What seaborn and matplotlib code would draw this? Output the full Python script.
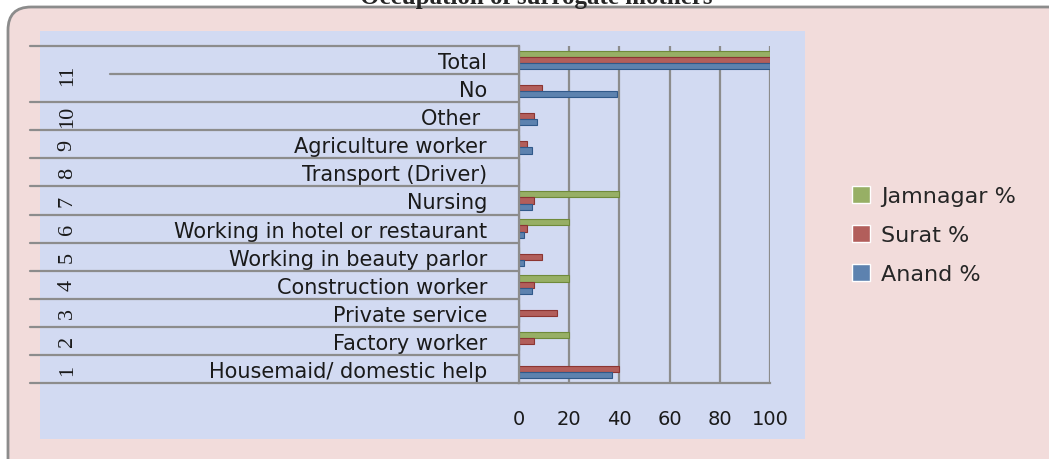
import numpy as np
import pandas as pd
import matplotlib.pyplot as plt
import seaborn as sns
from matplotlib.patches import FancyBboxPatch, Rectangle

# categories top to bottom
occupations = ['Total', 'No', 'Other ', 'Agriculture worker', 'Transport (Driver)',
               'Nursing', 'Working in hotel or restaurant', 'Working in beauty parlor',
               'Construction worker', 'Private service', 'Factory worker',
               'Housemaid/ domestic help']
group_no = ['11', '10', '9', '8', '7', '6', '5', '4', '3', '2', '1']

jamnagar = [100, 0, 0, 0, 0, 40, 20, 0, 20, 0, 20, 0]
surat = [100, 9, 6, 3, 0, 6, 3, 9, 6, 15, 6, 40]
anand = [100, 39, 7, 5, 0, 5, 2, 2, 5, 0, 0, 37]

series = ['Jamnagar %', 'Surat %', 'Anand %']
colors = ['#9bbb59', '#c0504d', '#4f81bd']
edges = ['#6f8a3a', '#8c3532', '#30598a']

df = pd.DataFrame({'occupation': occupations * 3,
                   'value': jamnagar + surat + anand,
                   'city': np.repeat(series, len(occupations))})

sns.set_style('white')
plt.rcParams['font.family'] = ['DejaVu Sans']

W, H = 1049, 460
fig = plt.figure(figsize=(W / 100, H / 100), dpi=100)
fig.patch.set_facecolor('white')

# rounded pink frame (runs off the right and bottom edges)
frame = FancyBboxPatch((8 / W, -80 / H), (W + 60) / W, (H + 72) / H,
                       boxstyle='round,pad=0,rounding_size=0.022',
                       transform=fig.transFigure, facecolor='#f2dcdb', edgecolor='#8c8c8c',
                       linewidth=2, mutation_aspect=W / H, zorder=-3)
fig.patches.append(frame)
# light plot area
fig.patches.append(Rectangle((40 / W, 1 - 440 / H), 765 / W, 408 / H,
                             transform=fig.transFigure, facecolor='#d2daf2',
                             edgecolor='none', zorder=-2))

fig.text(536 / W, 1 - 4 / H, 'Occupation of surrogate mothers', ha='center', va='baseline',
         fontsize=18, fontweight='bold', family='Liberation Serif')

ax = fig.add_axes([519 / W, 1 - 384 / H, 251 / W, 337 / H])
ax.set_facecolor('none')

sns.barplot(data=df, y='occupation', x='value', hue='city', order=occupations,
            hue_order=series, palette=colors, width=0.66, ax=ax, legend=True)
for cont, ec in zip(ax.containers, edges):
    for bar in cont:
        bar.set_edgecolor(ec)
        bar.set_linewidth(0.8)

ax.set_xlim(0, 100)
ax.set_ylim(len(occupations) - 0.5, -0.5)
ax.set_xticks([0, 20, 40, 60, 80, 100])
ax.tick_params(axis='x', labelsize=14, pad=14, length=5, width=1.5, color='#8c8c8c',
               direction='out')
ax.tick_params(axis='y', labelsize=15, length=0, pad=23)
ax.set_xlabel('')
ax.set_ylabel('')
for t in ax.get_yticklabels() + ax.get_xticklabels():
    t.set_color('#1a1a1a')
ax.grid(axis='x', color='#8c8c8c', linewidth=1.6)
ax.set_axisbelow(True)
for s in ['top', 'right']:
    ax.spines[s].set_visible(False)
for s in ['left', 'bottom']:
    ax.spines[s].set_color('#8c8c8c')
    ax.spines[s].set_linewidth(1.6)

# row separators across category labels
tr = ax.get_yaxis_transform()
for i in range(len(occupations) + 1):
    y = i - 0.5
    x0 = -1.63 if i == 1 else -1.95
    ax.plot([x0, 0], [y, y], transform=tr, color='#8c8c8c', lw=1.6, clip_on=False)

# group numbers, rotated
positions = [0.5] + list(range(2, len(occupations)))
for num, y in zip(group_no, positions):
    ax.text(-1.8, y, num, transform=tr, rotation=90, ha='center', va='center',
            fontsize=16, family='Liberation Serif', color='#1a1a1a')

handles, labels = ax.get_legend_handles_labels()
ax.get_legend().remove()
fig.legend(handles, labels, loc='center left', bbox_to_anchor=(832 / W, 1 - 236 / H),
           frameon=False, fontsize=16, handlelength=0.8, handleheight=0.8,
           labelspacing=0.85, handletextpad=0.5)

fig.savefig('out.png', dpi=100, facecolor=fig.get_facecolor())
